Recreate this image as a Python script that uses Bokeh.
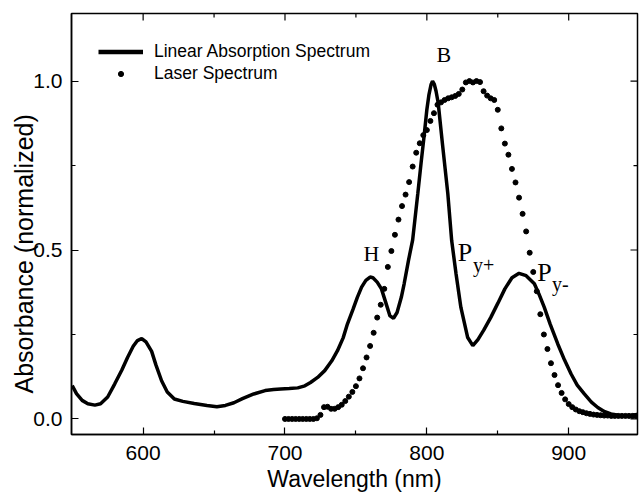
import math
from bokeh.plotting import figure
from bokeh.models import (Range1d, FixedTicker, Legend, LegendItem, Title,
                          NumeralTickFormatter)
from bokeh.core.properties import value
from bokeh.embed import file_html
from bokeh.resources import INLINE

# ---- data ----
abs_wl = [550, 553, 557, 561, 566, 570, 575, 580, 585, 589, 593, 596, 599, 602, 606,
          609, 613, 617, 622, 628, 636, 645, 652, 658, 664, 670, 678, 686, 692, 697,
          703, 709, 714, 718, 723, 728, 733, 737, 741, 744, 748, 751, 754, 757, 760,
          762, 765, 768, 771, 774, 776.5, 779, 782, 784, 787, 790, 793.6, 796, 798,
          800, 801.5, 803, 804, 805.3, 806.5, 808, 811, 814.8, 817.5, 820.6, 824,
          828.8, 832.4, 836, 840, 845, 850, 855, 860, 865, 870, 875.8, 879, 882.8,
          887, 892.3, 897, 901.7, 906, 911, 916, 920.5, 925, 929.8, 935, 939, 945, 950]
abs_val = [0.099, 0.075, 0.055, 0.045, 0.041, 0.045, 0.065, 0.104, 0.145, 0.182, 0.215,
           0.232, 0.238, 0.228, 0.200, 0.160, 0.113, 0.080, 0.059, 0.052, 0.046, 0.040,
           0.036, 0.040, 0.048, 0.060, 0.074, 0.084, 0.087, 0.089, 0.090, 0.092, 0.098,
           0.108, 0.123, 0.143, 0.172, 0.202, 0.240, 0.281, 0.325, 0.360, 0.390, 0.410,
           0.420, 0.418, 0.405, 0.385, 0.345, 0.305, 0.298, 0.315, 0.360, 0.400, 0.468,
           0.530, 0.666, 0.760, 0.835, 0.915, 0.960, 0.990, 1.000, 0.990, 0.970, 0.935,
           0.814, 0.666, 0.528, 0.429, 0.330, 0.241, 0.217, 0.235, 0.262, 0.300, 0.342,
           0.385, 0.418, 0.431, 0.424, 0.400, 0.370, 0.330, 0.280, 0.222, 0.175, 0.133,
           0.100, 0.074, 0.050, 0.034, 0.022, 0.015, 0.011, 0.010, 0.011, 0.015]

laser_wl = [700, 702.5, 705, 707.5, 710, 712.5, 715, 717.5, 720, 722.5, 725, 727.5, 730,
            732.5, 735, 737.5, 740, 742.5, 745, 747.5, 750, 752.5, 755, 757.5, 760,
            762.5, 765, 767.5, 770, 772.5, 775, 777.5, 780, 782.5, 785, 787.5, 790,
            792.5, 795, 797.5, 800, 802.5, 805, 807.5, 810, 812.5, 815, 817.5, 820,
            822.5, 825, 827.5, 830, 832.5, 835, 837.5, 840, 842.5, 845, 847.5, 850,
            852.5, 855, 857.5, 860, 862.5, 865, 867.5, 870, 872.5, 875, 877.5, 880,
            882.5, 885, 887.5, 890, 892.5, 895, 897.5, 900, 902.5, 905, 907.5, 910,
            912.5, 915, 917.5, 920, 922.5, 925, 927.5, 930, 932.5, 935, 937.5, 940,
            942.5, 945, 947.5]
laser_val = [0, 0, 0, 0, 0, 0, 0, 0, 0, 0.002, 0.012, 0.035, 0.036, 0.030, 0.030, 0.035,
             0.042, 0.053, 0.066, 0.080, 0.097, 0.120, 0.150, 0.182, 0.216, 0.255, 0.300,
             0.338, 0.385, 0.450, 0.497, 0.545, 0.590, 0.630, 0.664, 0.701, 0.747, 0.788,
             0.816, 0.840, 0.855, 0.882, 0.905, 0.930, 0.937, 0.944, 0.949, 0.952, 0.956,
             0.962, 0.975, 0.996, 1.000, 0.996, 1.000, 0.997, 0.970, 0.957, 0.949, 0.944,
             0.915, 0.860, 0.815, 0.782, 0.740, 0.700, 0.655, 0.607, 0.555, 0.492, 0.435,
             0.378, 0.310, 0.250, 0.207, 0.165, 0.130, 0.100, 0.077, 0.058, 0.044, 0.035,
             0.028, 0.023, 0.020, 0.017, 0.015, 0.013, 0.012, 0.011, 0.010, 0.010, 0.009,
             0.009, 0.009, 0.009, 0.009, 0.009, 0.009, 0.009]

x_ticks = [600, 700, 800, 900]
x_minor = [650, 750, 850]
y_ticks = [0.0, 0.5, 1.0]
y_minor = [0.25, 0.75]

series_names = ["Linear Absorption Spectrum", "Laser Spectrum"]
x_title = "Wavelength (nm)"
y_title = "Absorbance (normalized)"
band_main = ["B", "H", "P", "P"]
band_sub = ["y+", "y-"]

SANS = "Liberation Sans"
SERIF = "Liberation Serif"
X0, X1 = 549.5, 948.5
Y0, Y1 = -0.046, 1.2

p = figure(width=639, height=496, output_backend="svg", toolbar_location=None,
           x_range=Range1d(X0, X1), y_range=Range1d(Y0, Y1),
           min_border_left=71, min_border_right=2, min_border_top=13,
           min_border_bottom=62)
p.xgrid.visible = False
p.ygrid.visible = False
p.background_fill_color = "white"
p.border_fill_color = "white"
p.outline_line_color = "black"
p.outline_line_width = 1.5

r_abs = p.line(abs_wl, abs_val, line_color="black", line_width=3.5)
r_las = p.scatter(laser_wl, laser_val, size=5, fill_color="black", line_color="black")

for ax, ticks, minor in [(p.xaxis[0], x_ticks, x_minor), (p.yaxis[0], y_ticks, y_minor)]:
    ax.ticker = FixedTicker(ticks=ticks, minor_ticks=minor)
    ax.axis_line_color = "black"
    ax.axis_line_width = 1.5
    ax.major_tick_line_color = "black"
    ax.minor_tick_line_color = "black"
    ax.major_tick_line_width = 1.2
    ax.minor_tick_line_width = 1.2
    ax.major_tick_in = 7
    ax.major_tick_out = 0
    ax.minor_tick_in = 4
    ax.minor_tick_out = 0
    ax.major_label_text_font = SANS
    ax.major_label_text_color = "black"
    ax.major_label_text_font_size = "21px"
p.yaxis.formatter = NumeralTickFormatter(format="0.0")
p.xaxis.major_label_standoff = 11
p.yaxis.major_label_standoff = 9

# x-axis title
p.xaxis.axis_label = x_title
p.xaxis.axis_label_text_font = SANS
p.xaxis.axis_label_text_font_size = "23px"
p.xaxis.axis_label_text_font_style = "normal"
p.xaxis.axis_label_text_color = "black"
p.xaxis.axis_label_standoff = 3

# y-axis title (side title so it sits slightly below centre, like the original)
p.add_layout(Title(text=y_title, text_font=SANS, text_font_size="25px",
                   text_font_style="normal", text_color="black",
                   align="left", offset=41, vertical_align="bottom", standoff=-14),
             "left")

# mirrored inward ticks on top and right edges (clipped half of a dash marker)
p.scatter(x_ticks, [Y1] * len(x_ticks), marker="dash", angle=math.pi / 2, size=14,
          line_color="black", line_width=1.2)
p.scatter(x_minor, [Y1] * len(x_minor), marker="dash", angle=math.pi / 2, size=8,
          line_color="black", line_width=1.2)
p.scatter([X1] * len(y_ticks), y_ticks, marker="dash", size=14,
          line_color="black", line_width=1.2)
p.scatter([X1] * len(y_minor), y_minor, marker="dash", size=8,
          line_color="black", line_width=1.2)

# band labels
p.text(x=[812, 761], y=[1.080, 0.489], text=band_main[:2], text_font=value(SERIF),
       text_font_size="22px", text_align="center", text_baseline="alphabetic",
       text_color="black")
p.text(x=[821.8, 877.8], y=[0.493, 0.434], text=band_main[2:], text_font=value(SERIF),
       text_font_size="26px", text_align="left", text_baseline="alphabetic",
       text_color="black")
p.text(x=[832.6, 888.3], y=[0.457, 0.398], text=band_sub, text_font=value(SERIF),
       text_font_size="20px", text_align="left", text_baseline="alphabetic",
       text_color="black")

# legend
r_leg_line = p.line([None], [None], line_color="black", line_width=4.5)
legend = Legend(items=[LegendItem(label=series_names[0], renderers=[r_leg_line]),
                       LegendItem(label=series_names[1], renderers=[r_las])],
                location="top_left", margin=27, padding=0, spacing=0,
                glyph_width=45, glyph_height=13, label_height=22, label_standoff=11,
                label_text_font=SANS, label_text_font_size="17.5px",
                label_text_color="black", border_line_color=None,
                background_fill_alpha=0)
p.add_layout(legend, "center")

open("out.html", "w").write(file_html(p, INLINE))
